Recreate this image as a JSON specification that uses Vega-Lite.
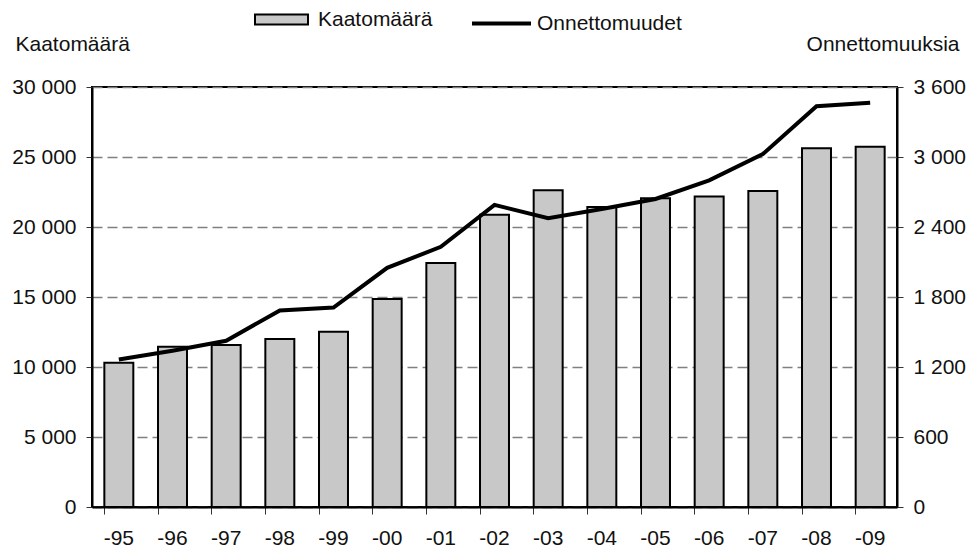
{
  "$schema": "https://vega.github.io/schema/vega-lite/v6.json",
  "width": 805,
  "height": 420,
  "autosize": {"type": "none"},
  "padding": {"left": 92, "top": 87, "right": 73, "bottom": 45},
  "background": "white",
  "config": {
    "font": "Liberation Sans",
    "view": {"stroke": "black", "strokeWidth": 2},
    "axis": {"labelFontSize": 21, "labelColor": "#111", "titleFontSize": 21, "titleFontWeight": "normal", "titleColor": "#111", "domainColor": "black", "domainWidth": 2, "tickColor": "#333", "tickWidth": 1}
  },
  "data": {
    "values": [
      {"year": "-95", "kaato": 10300, "onn": 1265},
      {"year": "-96", "kaato": 11450, "onn": 1340},
      {"year": "-97", "kaato": 11570, "onn": 1425},
      {"year": "-98", "kaato": 12000, "onn": 1685},
      {"year": "-99", "kaato": 12520, "onn": 1710},
      {"year": "-00", "kaato": 14850, "onn": 2050},
      {"year": "-01", "kaato": 17420, "onn": 2230},
      {"year": "-02", "kaato": 20870, "onn": 2590},
      {"year": "-03", "kaato": 22620, "onn": 2475},
      {"year": "-04", "kaato": 21420, "onn": 2555},
      {"year": "-05", "kaato": 22050, "onn": 2640},
      {"year": "-06", "kaato": 22170, "onn": 2800},
      {"year": "-07", "kaato": 22570, "onn": 3025},
      {"year": "-08", "kaato": 25620, "onn": 3435},
      {"year": "-09", "kaato": 25740, "onn": 3465}
    ]
  },
  "encoding": {
    "x": {
      "field": "year", "type": "nominal", "sort": null,
      "scale": {"paddingInner": 0.46, "paddingOuter": 0.23},
      "axis": {"title": null, "labelAngle": 0, "bandPosition": 0, "tickSize": 7, "labelPadding": 13}
    }
  },
  "layer": [
    {
      "mark": {"type": "bar", "stroke": "black", "strokeWidth": 2},
      "encoding": {
        "y": {
          "field": "kaato", "type": "quantitative",
          "scale": {"domain": [0, 30000], "nice": false},
          "axis": {
            "values": [0, 5000, 10000, 15000, 20000, 25000, 30000],
            "labelExpr": "replace(format(datum.value, ','), ',', ' ')",
            "grid": true, "gridDash": [10, 5], "gridColor": "#808080", "gridWidth": 1.5,
            "tickSize": 6, "labelPadding": 10,
            "title": "Kaatomäärä", "titleAngle": 0, "titleX": -77, "titleY": -43,
            "titleAlign": "left", "titleBaseline": "middle"
          }
        },
        "fill": {
          "datum": "Kaatomäärä", "type": "nominal",
          "scale": {"range": ["#c8c8c8"]},
          "legend": {
            "title": null, "orient": "none", "legendX": 162, "legendY": -95, "padding": 0,
            "symbolType": "M-1,-0.19H1V0.19H-1Z", "symbolSize": 2809,
            "symbolStrokeColor": "black", "symbolStrokeWidth": 2,
            "labelFontSize": 21, "labelColor": "#111", "labelOffset": 9
          }
        }
      }
    },
    {
      "mark": {"type": "line", "strokeWidth": 4, "strokeJoin": "miter"},
      "encoding": {
        "y": {
          "field": "onn", "type": "quantitative",
          "scale": {"domain": [0, 3600], "nice": false},
          "axis": {
            "orient": "right",
            "values": [0, 600, 1200, 1800, 2400, 3000, 3600],
            "labelExpr": "replace(format(datum.value, ','), ',', ' ')",
            "grid": false, "tickSize": 6, "labelPadding": 10,
            "title": "Onnettomuuksia", "titleAngle": 0, "titleX": 62, "titleY": -43,
            "titleAlign": "right", "titleBaseline": "middle"
          }
        },
        "stroke": {
          "datum": "Onnettomuudet", "type": "nominal",
          "scale": {"range": ["black"]},
          "legend": {
            "title": null, "orient": "none", "legendX": 378, "legendY": -95, "padding": 0,
            "symbolType": "M-1,0H1", "symbolSize": 3481, "symbolStrokeWidth": 4,
            "labelFontSize": 21, "labelColor": "#111", "labelOffset": 4
          }
        }
      }
    }
  ],
  "resolve": {"scale": {"y": "independent"}}
}
